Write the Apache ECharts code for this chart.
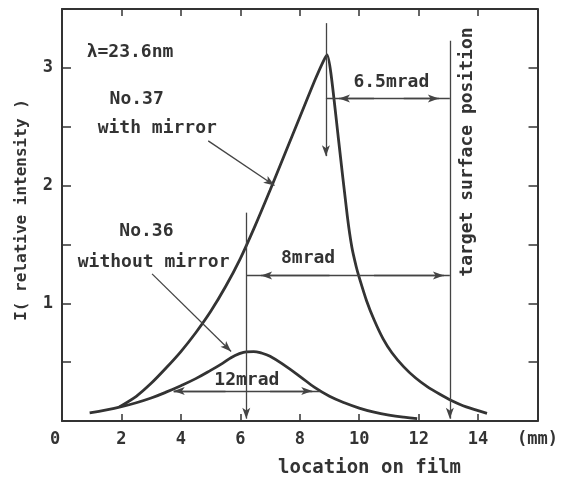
<!DOCTYPE html>
<html>
<head>
<meta charset="utf-8">
<script src="https://cdn.jsdelivr.net/npm/echarts@6/dist/echarts.min.js"></script>
<style>
html,body{margin:0;padding:0;background:#ffffff;}
#chart{width:561px;height:489px;}
</style>
</head>
<body>
<div id="chart"></div>
<script>
// ---- data ----
const xTickValues = [0, 2, 4, 6, 8, 10, 12, 14];
const xUnitLabel = '(mm)';
const yTickValues = [1, 2, 3];

// No.37 with mirror
const mirrorX = [1.93, 2.5, 3.0, 3.5, 4.0, 4.5, 5.0, 5.5, 6.0, 6.5, 7.0, 7.5, 8.0, 8.5, 8.8, 8.92, 9.05, 9.3, 9.6, 9.75, 9.9, 10.0, 10.25, 10.5, 10.8, 11.1, 11.5, 11.9, 12.3, 12.7, 13.1, 13.6, 14.3];
const mirrorY = [0.12, 0.21, 0.32, 0.45, 0.59, 0.75, 0.93, 1.14, 1.38, 1.66, 1.96, 2.27, 2.58, 2.89, 3.06, 3.11, 2.95, 2.4, 1.74, 1.48, 1.31, 1.22, 1.02, 0.86, 0.70, 0.58, 0.46, 0.365, 0.29, 0.23, 0.175, 0.12, 0.065];

// No.36 without mirror
const noMirrorX = [0.93, 1.5, 2.0, 2.5, 3.0, 3.5, 4.0, 4.5, 5.0, 5.4, 5.7, 5.95, 6.2, 6.45, 6.7, 7.0, 7.5, 8.0, 8.5, 9.0, 9.5, 10.0, 10.5, 11.0, 11.5, 11.95];
const noMirrorY = [0.07, 0.095, 0.122, 0.155, 0.195, 0.245, 0.30, 0.36, 0.43, 0.49, 0.54, 0.57, 0.588, 0.59, 0.578, 0.55, 0.47, 0.38, 0.285, 0.21, 0.155, 0.11, 0.075, 0.05, 0.032, 0.02];

// annotation texts and their anchor points (data coordinates)
const noteTexts = ['λ=23.6nm', 'No.37', 'with mirror', 'No.36', 'without mirror', '6.5mrad', '8mrad', '12mrad', 'target surface position'];
const noteX = [0.83, 1.6, 1.2, 1.93, 0.53, 11.08, 8.28, 6.22, 13.64];
const noteY = [3.13, 2.73, 2.49, 1.61, 1.35, 2.88, 1.385, 0.348, 2.285];
const noteAlign = ['left', 'left', 'left', 'left', 'left', 'center', 'center', 'center', 'center'];
const noteRotate = [0, 0, 0, 0, 0, 0, 0, 0, 90];

// plain annotation lines: [x1, y1, x2, y2]
const plainLines = [
  [8.88, 2.74, 13.05, 2.74],   // 6.5 mrad dimension
  [6.2, 1.236, 13.05, 1.236],  // 8 mrad dimension
  [3.76, 0.254, 8.68, 0.254]   // 12 mrad dimension
];
// arrows: [x1, y1, x2, y2], head at (x2, y2)
const arrowLines = [
  [4.92, 2.38, 7.15, 2.0],    // pointer to No.37
  [3.03, 1.25, 5.69, 0.59],   // pointer to No.36
  [8.88, 3.38, 8.88, 2.25],   // peak No.37
  [6.2, 1.77, 6.2, 0.02],     // peak No.36
  [13.05, 3.23, 13.05, 0.02], // target surface
  [10.5, 2.74, 9.32, 2.74],   // 6.5 mrad left head
  [11.5, 2.74, 12.68, 2.74],  // 6.5 mrad right head
  [9.0, 1.236, 6.7, 1.236],   // 8 mrad left head
  [10.5, 1.236, 12.85, 1.236],// 8 mrad right head
  [5.5, 0.254, 3.76, 0.254],  // 12 mrad left head
  [7.0, 0.254, 8.42, 0.254]   // 12 mrad right head
];

// ---- chart ----
const FONT = 'DejaVu Sans Mono';
const INK = '#333333';
const chart = echarts.init(document.getElementById('chart'));

const zip = (a, b) => a.map((v, i) => [v, b[i]]);

const markData = [];
plainLines.forEach(l => markData.push([
  { coord: [l[0], l[1]], symbol: 'none' },
  { coord: [l[2], l[3]], symbol: 'none' }
]));
arrowLines.forEach(l => markData.push([
  { coord: [l[0], l[1]], symbol: 'none' },
  { coord: [l[2], l[3]], symbol: 'arrow', symbolSize: [6, 11] }
]));

const noteData = noteTexts.map((t, i) => ({
  value: [noteX[i], noteY[i]],
  label: {
    show: true,
    formatter: t,
    color: INK,
    opacity: 1,
    fontFamily: FONT, fontSize: 18, fontWeight: 'bold',
    align: noteAlign[i],
    verticalAlign: 'middle',
    rotate: noteRotate[i],
    position: [0, 0]
  }
}));

const axisLineStyle = { color: INK, width: 2 };

chart.setOption({
  animation: false,
  backgroundColor: '#ffffff',
  grid: { left: 62, right: 19, top: 9, bottom: 68, containLabel: false },
  xAxis: [{
    type: 'value', min: 0, max: 16, interval: 2, position: 'bottom',
    axisLine: { show: true, onZero: false, lineStyle: axisLineStyle },
    axisTick: { show: true, inside: true, length: 7, lineStyle: { color: INK, width: 1.5 } },
    splitLine: { show: false },
    axisLabel: {
      margin: 10, color: INK, fontFamily: FONT, fontSize: 17, fontWeight: 'bold',
      formatter: v => v === 0 ? '{z|0}' : (v === 16 ? xUnitLabel : (xTickValues.includes(v) ? String(v) : '')),
      rich: { z: { padding: [0, 14, 0, 0], fontFamily: FONT, fontSize: 17, fontWeight: 'bold', color: INK } }
    }
  }, {
    type: 'value', min: 0, max: 16, interval: 2, position: 'top',
    axisLine: { show: true, onZero: false, lineStyle: axisLineStyle },
    axisTick: { show: true, inside: true, length: 7, lineStyle: { color: INK, width: 1.5 } },
    splitLine: { show: false }, axisLabel: { show: false }
  }],
  yAxis: [{
    type: 'value', min: 0, max: 3.5, interval: 0.5, position: 'left',
    axisLine: { show: true, onZero: false, lineStyle: axisLineStyle },
    axisTick: { show: true, inside: true, length: 9, lineStyle: { color: INK, width: 1.5 } },
    splitLine: { show: false },
    axisLabel: {
      margin: 9, color: INK, fontFamily: FONT, fontSize: 17, fontWeight: 'bold',
      formatter: v => yTickValues.includes(v) ? String(v) : ''
    }
  }, {
    type: 'value', min: 0, max: 3.5, interval: 0.5, position: 'right',
    axisLine: { show: true, onZero: false, lineStyle: axisLineStyle },
    axisTick: { show: true, inside: true, length: 9, lineStyle: { color: INK, width: 1.5 } },
    splitLine: { show: false }, axisLabel: { show: false }
  }],
  graphic: [{
    type: 'text', left: 278, top: 459,
    style: { text: 'location on film', fill: INK, font: 'bold 19px "DejaVu Sans Mono"' }
  }, {
    type: 'text', x: 22, y: 210, rotation: Math.PI / 2,
    style: { text: 'I( relative intensity )', fill: INK, font: 'bold 16px "DejaVu Sans Mono"', align: 'center', verticalAlign: 'middle' }
  }],
  series: [{
    name: 'No.37 with mirror', type: 'line', data: zip(mirrorX, mirrorY),
    showSymbol: false, smooth: 0.25,
    lineStyle: { color: INK, width: 2.8 }
  }, {
    name: 'No.36 without mirror', type: 'line', data: zip(noMirrorX, noMirrorY),
    showSymbol: false, smooth: 0.4,
    lineStyle: { color: INK, width: 2.8 }
  }, {
    name: 'annotations', type: 'line', data: [],
    markLine: {
      silent: true, animation: false,
      label: { show: false },
      lineStyle: { color: '#444444', width: 1.3, type: 'solid' },
      emphasis: { disabled: true },
      data: markData
    }
  }, {
    name: 'notes', type: 'scatter', symbolSize: 0, silent: true,
    itemStyle: { color: INK, opacity: 1 },
    data: noteData,
    label: { show: true, color: INK, fontFamily: FONT, fontSize: 18, fontWeight: 'bold' }
  }]
});
</script>
</body>
</html>
